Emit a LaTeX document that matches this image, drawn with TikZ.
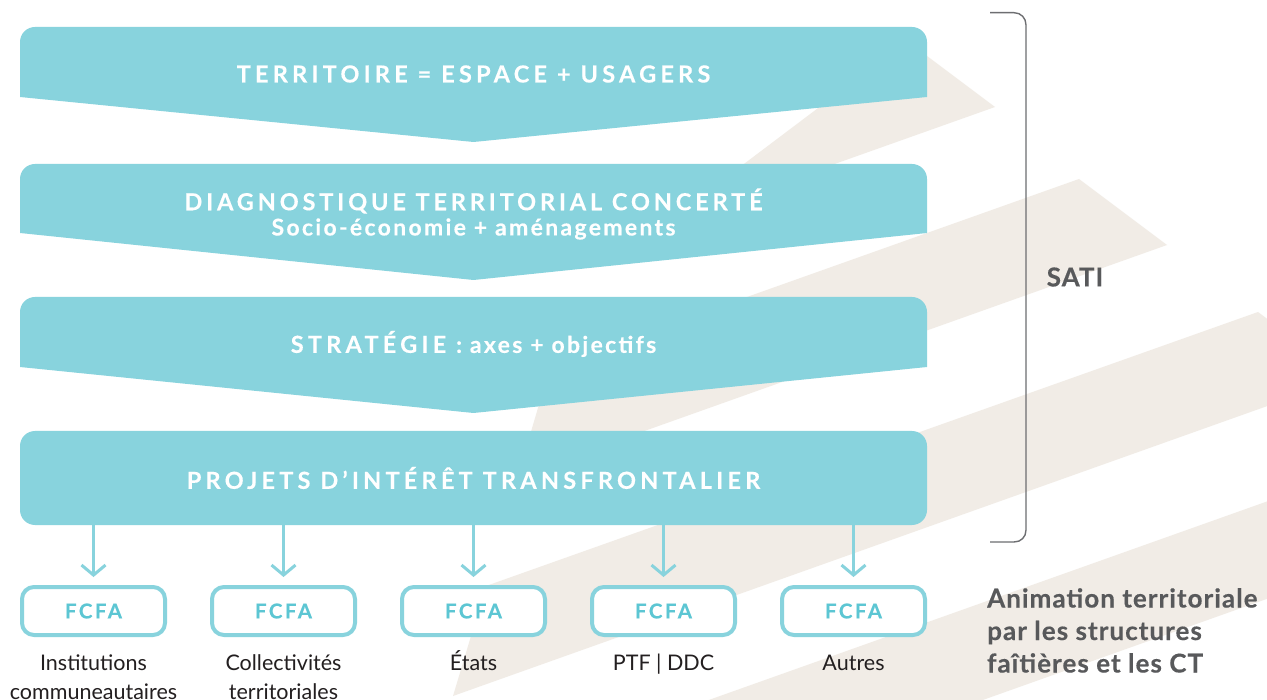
\documentclass[tikz,border=0pt]{standalone}
\usepackage{fontspec}
\setmainfont{Lato}
\newfontfamily\capsfont[LetterSpace=18, BoldFeatures={FakeBold=0.3}]{Lato}
\newfontfamily\capsnarrow[LetterSpace=16.5, BoldFeatures={FakeBold=0.3}]{Lato}
\newfontfamily\lowfont[LetterSpace=10, BoldFeatures={FakeBold=0.3}]{Lato}
\newfontfamily\boxfont[LetterSpace=12, BoldFeatures={FakeBold=0.3}]{Lato}
\newfontfamily\sidefont[LetterSpace=4, BoldFeatures={FakeBold=0.3}]{Lato}
\usetikzlibrary{arrows.meta}
\definecolor{cyanb}{HTML}{88D3DD}
\definecolor{cyant}{HTML}{5CC6D3}
\definecolor{beige}{HTML}{F1ECE6}
\definecolor{graytxt}{HTML}{58595B}
\definecolor{darktxt}{HTML}{231F20}
\definecolor{bracegray}{HTML}{6D6E71}
\newcommand{\bannershape}[3]{%
  \fill[cyanb] (20,#2) -- (20,#1+15) .. controls (20,#1+6.7) and (26.7,#1) .. (35,#1)
    -- (912,#1) .. controls (920.3,#1) and (927,#1+6.7) .. (927,#1+15)
    -- (927,#2) -- (473.5,#3) -- cycle;}
\begin{document}
\begin{tikzpicture}[x=1pt,y=-1pt,
  bantext/.style={text=white, font=\capsfont\bfseries\fontsize{23.5}{27}\selectfont, inner sep=0pt, align=center},
  lowtext/.style={text=white, font=\lowfont\bfseries\fontsize{23}{27}\selectfont, inner sep=0pt, align=center},
  fbox/.style={draw=cyanb, line width=4pt, fill=white, rounded corners=12pt,
     minimum width=143pt, minimum height=48pt, inner sep=0pt,
     text=cyant, font=\boxfont\bfseries\fontsize{20.5}{22}\selectfont},
  lbl/.style={text=darktxt, font=\fontsize{21.5}{29}\selectfont, align=center, inner sep=0pt},
  arr/.style={cyanb, line width=3pt, -{Straight Barb[length=10pt,width=24pt]}},
  side/.style={text=graytxt, font=\sidefont\bfseries\fontsize{26}{32.5}\selectfont, inner sep=0pt}]
\useasboundingbox (0,0) rectangle (1267,700);
\fill[white] (0,0) rectangle (1267,700);
\begin{scope}
\clip (0,0) rectangle (1267,700);
\fill[beige] (907,41) -- (995,107) -- (663,225) -- cycle;
\fill[beige] (1079,179) -- (1167,245) -- (518,476) -- (550,367) -- cycle;
\fill[beige] (1258,312) -- (1346,378) -- (453,696) -- (486,586) -- cycle;
\fill[beige] (1437,441) -- (1525,507) -- (390,911) -- (422,802) -- cycle;
\end{scope}
% banners
\bannershape{27}{97}{142}
\bannershape{164}{233}{280}
\bannershape{297}{367}{413}
\node[fill=cyanb, rounded corners=15pt, minimum width=907pt, minimum height=94pt, inner sep=0pt] (p4) at (473.5,478) {};
\node[bantext] (t1) at (473.5,74) {TERRITOIRE = ESPACE + USAGERS};
\node[bantext, font=\capsnarrow\bfseries\fontsize{23.5}{27}\selectfont] (t2) at (473.5,201) {DIAGNOSTIQUE TERRITORIAL CONCERTÉ};
\node[lowtext] (t2b) at (473.5,229) {Socio-économie + aménagements};
\node[bantext] (t3) at (473.5,344) {STRATÉGIE {\lowfont\bfseries\fontsize{23}{27}\selectfont : axes + objectifs}};
\node[bantext] (t4) at (p4) {PROJETS D’INTÉRÊT TRANSFRONTALIER};
% boxes
\foreach \i/\x in {1/93.5,2/283.5,3/473.5,4/663.5,5/853.5}{
  \node[fbox] (b\i) at (\x,611) {FCFA};
  \draw[arr] (p4.south -| b\i.north) -- ([yshift=8pt]b\i.north);
}
\node[lbl] (l1) at (93.5,677) {Institutions\\communeautaires};
\node[lbl] (l2) at (283.5,677) {Collectivités\\territoriales};
\node[lbl, anchor=base] (l3) at (473.5,670) {États};
\node[lbl, anchor=base] (l4) at (663.5,670) {PTF | DDC};
\node[lbl, anchor=base] (l5) at (853.5,670) {Autres};
% brace
\draw[bracegray, line width=1.4pt] (990,12.7) -- (1014,12.7) .. controls (1021,12.7) and (1026,18) .. (1026,25)
  -- (1026,530) .. controls (1026,537) and (1021,542) .. (1014,542) -- (990,542);
\node[side] (sati) at (1075,277) {SATI};
\node[side, anchor=north west, align=left] (anim) at (987,588) {Animation territoriale\\par les structures\\faîtières et les CT};
\end{tikzpicture}
\end{document}
